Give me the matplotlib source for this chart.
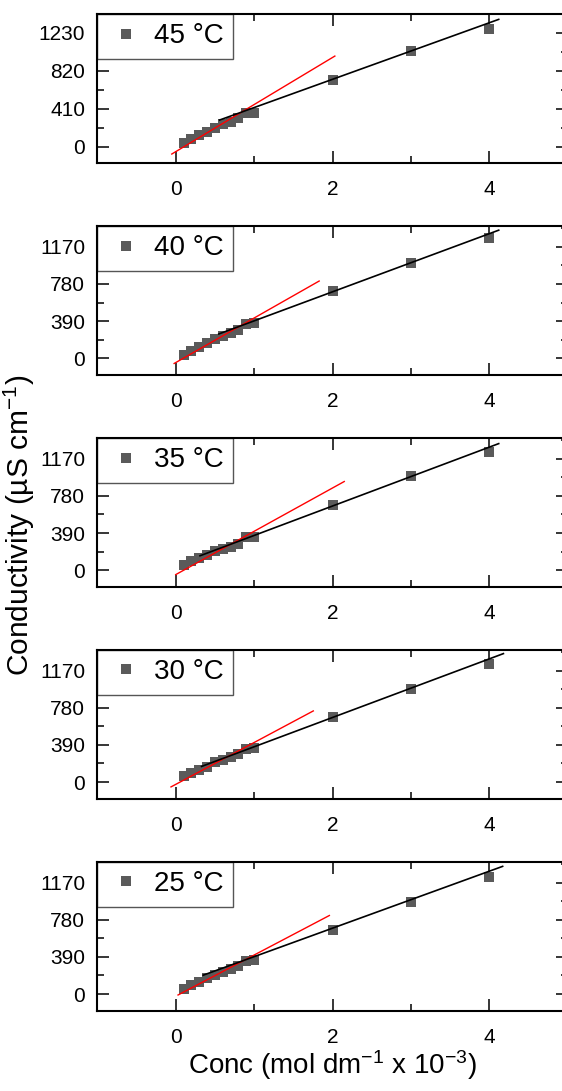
import matplotlib
matplotlib.use('Agg')
from matplotlib import pyplot as plt
from matplotlib.ticker import MultipleLocator, AutoMinorLocator

# concentration (mol dm^-1 x 10^-3)
conc = [0.1, 0.2, 0.3, 0.4, 0.5, 0.6, 0.7, 0.8, 0.9, 1.0, 2, 3, 4]

# conductivity (uS cm^-1) for each temperature
k45 = [45, 79, 126, 162, 205, 245, 270, 306, 360, 367, 719, 1036, 1270]
k40 = [38, 80, 118, 160, 201, 229, 263, 298, 360, 367, 707, 1005, 1262]
k35 = [57, 92, 127, 161, 196, 224, 248, 272, 345, 352, 681, 986, 1236]
k30 = [59, 94, 128, 163, 215, 232, 267, 295, 343, 354, 683, 978, 1238]
k25 = [52, 94, 128, 173, 201, 232, 267, 294, 346, 354, 676, 970, 1230]

temps = ['45 °C', '40 °C', '35 °C', '30 °C', '25 °C']
series = [k45, k40, k35, k30, k25]

# fitted lines: (x0, x1), (y0, y1)
red_x = [(-0.05, 2.03), (-0.02, 1.83), (0.0, 2.15), (-0.06, 1.755), (0.03, 1.96)]
red_y = [(-79, 978), (-55, 811), (-47, 931), (-51, 747), (-10, 825)]
blk_x = [(0.56, 4.12), (0.55, 4.12), (0.31, 4.12), (0.33, 4.18), (0.35, 4.17)]
blk_y = [(288, 1374), (255, 1345), (151, 1329), (164, 1349), (198, 1341)]

y_steps = [410, 390, 390, 390, 390]
y_lims = [(-179, 1432), (-178, 1390), (-178, 1390), (-178, 1390), (-178, 1390)]

plt.rcParams['font.family'] = ['Liberation Sans', 'DejaVu Sans']
plt.rcParams['mathtext.default'] = 'regular'

fig = plt.figure(figsize=(5.62, 10.91), dpi=100)
W, H = 562.0, 1091.0
tops = [14, 225.9, 437.8, 649.7, 861.7]
ax_h = 149.3

axes = []
for i in range(5):
    ax = fig.add_axes([97.3 / W, 1 - (tops[i] + ax_h) / H, 470.4 / W, ax_h / H])
    axes.append(ax)
    ax.plot(conc, series[i], 's', color='#5a5a5a', markersize=7.3,
            markeredgewidth=0, label=temps[i], zorder=2)
    ax.plot(red_x[i], red_y[i], color='#ff0000', linewidth=1.0, zorder=3)
    ax.plot(blk_x[i], blk_y[i], color='black', linewidth=1.2, zorder=3)

    ax.set_xlim(-1, 5)
    ax.set_ylim(*y_lims[i])
    ax.xaxis.set_major_locator(MultipleLocator(2))
    ax.xaxis.set_minor_locator(MultipleLocator(1))
    ax.yaxis.set_major_locator(MultipleLocator(y_steps[i]))
    ax.yaxis.set_minor_locator(AutoMinorLocator(2))
    ax.tick_params(axis='both', which='both', direction='in', top=True, right=True,
                   width=1.1, labelsize=15)
    ax.tick_params(axis='both', which='major', length=8.5)
    ax.tick_params(axis='both', which='minor', length=5)
    ax.tick_params(axis='x', pad=12)
    ax.tick_params(axis='y', pad=8.6)
    for sp in ax.spines.values():
        sp.set_linewidth(1.5)

    leg = ax.legend(loc='upper left', bbox_to_anchor=(0, 1), borderaxespad=0,
                    fontsize=20, borderpad=0.34, handlelength=1.4,
                    handletextpad=0.3, fancybox=False, edgecolor='#555555',
                    framealpha=1)
    leg.get_frame().set_linewidth(1.0)
    leg.set_zorder(2.4)

axes[-1].set_xlabel('Conc (mol dm$^{-1}$ x 10$^{-3}$)', fontsize=20, labelpad=1)

fig.text(19 / W, 1 - 525 / H, 'Conductivity (µS cm$^{-1}$)', rotation=90,
         ha='center', va='center', fontsize=21.5)

fig.savefig('out.png', dpi=100)
